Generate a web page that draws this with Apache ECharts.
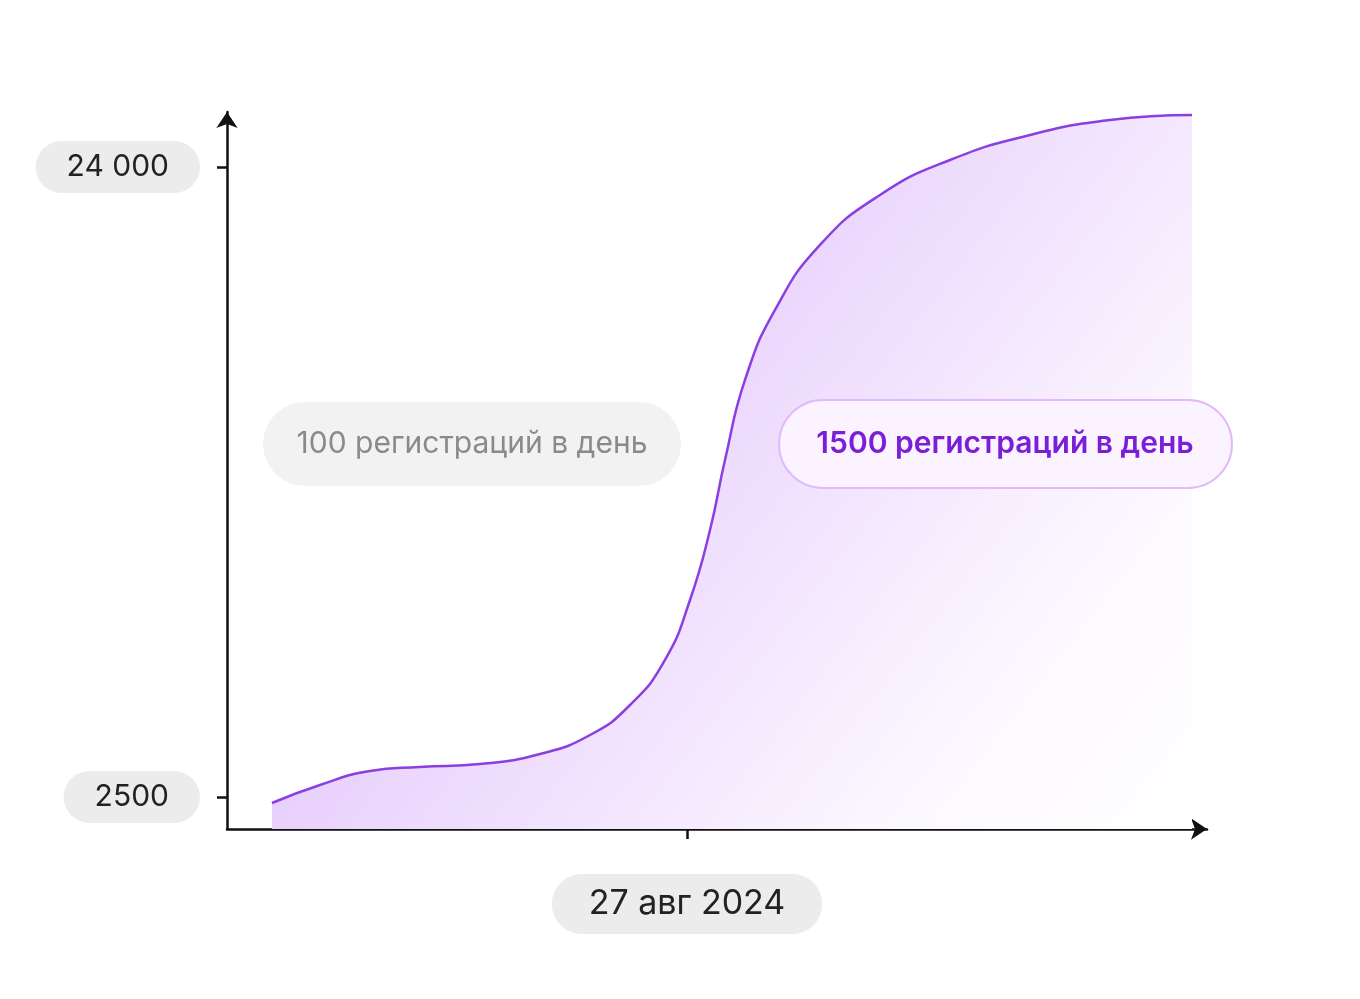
<!DOCTYPE html>
<html><head><meta charset="utf-8">
<script src="https://cdn.jsdelivr.net/npm/echarts@6/dist/echarts.min.js"></script>
<style>html,body{margin:0;background:#fff}#c{width:1360px;height:999px}</style>
</head><body><div id="c"></div>
<script>
const days = [-20.75,-18.35,-15.85,-13.35,-10.35,-7.35,-4.85,-2.85,-1.1,0.15,1.15,1.9,2.9,4.4,6.65,9.65,13.15,17.15,21.15,25.25];
const users = [2295,2910,3387,3524,3626,3968,4616,5640,7176,9224,11613,14002,16732,19121,21340,23046,24240,25094,25606,25776];
const yTicks = [2500,24000];
const yTickLabels = ['2500','24 000'];
const xTicks = [0];
const xTickLabels = ['27 авг 2024'];
const notes = ['100 регистраций в день','1500 регистраций в день'];
const F = 'Inter, "Noto Sans", sans-serif';
const chart = echarts.init(document.getElementById('c'));
chart.setOption({
  animation:false,
  grid:{left:227,right:1360-1207,top:112,bottom:999-829},
  xAxis:{type:'value',min:-23,max:26,splitLine:{show:false},
    axisLine:{onZero:false,lineStyle:{color:'#111',width:2.5},symbol:['none','arrow'],symbolSize:[16,16]},
    axisTick:{customValues:xTicks,length:10,inside:false,lineStyle:{color:'#111',width:2.5}},
    axisLabel:{customValues:xTicks,formatter:v=>xTickLabels[xTicks.indexOf(v)],margin:45,
      fontFamily:F,fontSize:34,color:'#222',backgroundColor:'#ececec',borderRadius:32,padding:[13,37,13,37]}},
  yAxis:{type:'value',min:1408,max:25877,splitLine:{show:false},
    axisLine:{show:true,onZero:false,lineStyle:{color:'#111',width:2.5},symbol:['none','arrow'],symbolSize:[16,16]},
    axisTick:{show:true,customValues:yTicks,length:10,lineStyle:{color:'#111',width:2.5}},
    axisLabel:{customValues:yTicks,formatter:v=>yTickLabels[yTicks.indexOf(v)],margin:27,
      fontFamily:F,fontSize:30,color:'#222',backgroundColor:'#ececec',borderRadius:28,padding:[11,31,11,31]}},
  series:[{type:'line',data:days.map((d,i)=>[d,users[i]]),smooth:0.5,symbol:'none',
    lineStyle:{color:'#8a3fe0',width:2.5},
    areaStyle:{opacity:1,color:new echarts.graphic.LinearGradient(0,0,1,1,[{offset:0,color:'#d6aef9'},{offset:0.45,color:'#ecd8fd'},{offset:0.8,color:'#fcf8ff'},{offset:1,color:'#ffffff'}])}}],
  graphic:[
    {type:'rect',z:100,shape:{x:263,y:402,width:418,height:84,r:42},style:{fill:'#f2f2f2'}},
    {type:'text',z:101,x:472,y:444,style:{text:notes[0],fontFamily:F,fontSize:30,fill:'#8a8a8a',align:'center',verticalAlign:'middle'}},
    {type:'rect',z:100,shape:{x:779,y:400,width:453,height:88,r:44},style:{fill:'#fbf3ff',stroke:'#e2b9fa',lineWidth:2}},
    {type:'text',z:101,x:1005,y:444,style:{text:notes[1],fontFamily:F,fontSize:30,fontWeight:600,fill:'#7a1fd6',align:'center',verticalAlign:'middle'}}
  ]
});
</script></body></html>
